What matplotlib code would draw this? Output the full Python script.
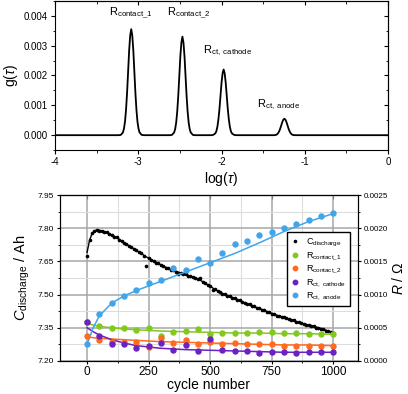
import numpy as np
import matplotlib
matplotlib.use("Agg")
import matplotlib.pyplot as plt
from matplotlib.ticker import MultipleLocator, FormatStrFormatter
from matplotlib.lines import Line2D

plt.rcParams['font.family'] = ['Liberation Sans', 'DejaVu Sans']
plt.rcParams['mathtext.fontset'] = 'custom'
plt.rcParams['mathtext.rm'] = 'Liberation Sans'
plt.rcParams['mathtext.it'] = 'Liberation Sans:italic'
plt.rcParams['mathtext.bf'] = 'Liberation Sans:bold'

# ---------------- top panel: DRT g(tau) ----------------
peak_centers = [-3.085, -2.47, -1.975, -1.245]
peak_offsets_half = [-0.15, -0.125, -0.1, -0.0875, -0.075, -0.0625, -0.05,
                     -0.0375, -0.025, -0.0125, 0.0]
peak1_half = [0, 0.00001, 0.00009, 0.00022, 0.00045, 0.00085, 0.00142, 0.00213, 0.00284, 0.00334, 0.00355]
peak2_half = [0, 0.00001, 0.00009, 0.00020, 0.00042, 0.00079, 0.00132, 0.00198, 0.00264, 0.00310, 0.00330]
peak3_half = [0, 0.00001, 0.00006, 0.00013, 0.00028, 0.00053, 0.00088, 0.00132, 0.00176, 0.00207, 0.00220]
peak4_half = [0, 0.0, 0.00001, 0.00003, 0.00007, 0.00013, 0.00022, 0.00033, 0.00044, 0.00052, 0.00055]
peak_labels = [r"R$_{\mathrm{contact\_1}}$", r"R$_{\mathrm{contact\_2}}$",
               r"R$_{\mathrm{ct,\ cathode}}$", r"R$_{\mathrm{ct,\ anode}}$"]
label_pos = [(-3.35, 0.00408), (-2.65, 0.00408), (-2.22, 0.00283), (-1.58, 0.00101)]

# ---------------- bottom panel ----------------
cycles_c = list(range(0, 1001, 10))
c_discharge = [7.675, 7.748, 7.780, 7.786, 7.794, 7.789, 7.788, 7.784, 7.781, 7.774,
               7.771, 7.760, 7.758, 7.748, 7.744, 7.733, 7.729, 7.720, 7.714, 7.705,
               7.701, 7.692, 7.688, 7.676, 7.628, 7.664, 7.656, 7.653, 7.644, 7.641,
               7.633, 7.629, 7.621, 7.620, 7.612, 7.611, 7.604, 7.592, 7.598, 7.592,
               7.591, 7.586, 7.585, 7.578, 7.577, 7.570, 7.575, 7.556, 7.552, 7.541,
               7.537, 7.520, 7.524, 7.515, 7.512, 7.503, 7.501, 7.493, 7.492, 7.485,
               7.484, 7.476, 7.474, 7.466, 7.464, 7.456, 7.456, 7.447, 7.446, 7.439,
               7.438, 7.431, 7.429, 7.422, 7.420, 7.413, 7.412, 7.405, 7.404, 7.399,
               7.399, 7.392, 7.391, 7.384, 7.383, 7.376, 7.376, 7.370, 7.369, 7.363,
               7.363, 7.357, 7.357, 7.351, 7.351, 7.345, 7.344, 7.337, 7.336, 7.330,
               7.328]
fit_c_x = [0, 10, 20, 30, 40, 50, 75, 100, 125, 150, 175, 200, 225, 250, 275, 300,
           325, 350, 375, 400, 425, 450, 475, 500, 525, 550, 575, 600, 625, 650,
           675, 700, 725, 750, 775, 800, 825, 850, 875, 900, 925, 950, 975, 1000]
fit_c_y = [7.69, 7.745, 7.775, 7.788, 7.792, 7.791, 7.783, 7.770, 7.754, 7.735,
           7.718, 7.700, 7.682, 7.664, 7.649, 7.634, 7.621, 7.610, 7.600, 7.590,
           7.581, 7.571, 7.555, 7.537, 7.520, 7.505, 7.493, 7.483, 7.470, 7.458,
           7.447, 7.437, 7.426, 7.415, 7.405, 7.397, 7.388, 7.378, 7.370, 7.362,
           7.355, 7.347, 7.337, 7.328]

cycles_r = list(range(0, 1001, 50))
r_contact1 = [0.00058, 0.00052, 0.00050, 0.00050, 0.00046, 0.00049, 0.00038, 0.00044,
              0.00045, 0.00048, 0.00040, 0.00042, 0.00042, 0.00042, 0.00043, 0.00043,
              0.00042, 0.00042, 0.00041, 0.00041, 0.00040]
r_contact2 = [0.00038, 0.00032, 0.00028, 0.00029, 0.00028, 0.00021, 0.00035, 0.00027,
              0.00032, 0.00026, 0.00029, 0.00026, 0.00027, 0.00026, 0.00025, 0.00025,
              0.00023, 0.00023, 0.00022, 0.00023, 0.00023]
r_cathode = [0.00058, 0.00038, 0.00026, 0.00026, 0.00020, 0.00023, 0.00027, 0.00016,
             0.00024, 0.00015, 0.00033, 0.00016, 0.00015, 0.00015, 0.00012, 0.00013,
             0.00013, 0.00012, 0.00014, 0.00013, 0.00013]
r_anode = [0.00025, 0.00070, 0.00087, 0.00098, 0.00107, 0.00117, 0.00122, 0.00140,
           0.00137, 0.00154, 0.00147, 0.00163, 0.00176, 0.00180, 0.00190, 0.00195,
           0.00201, 0.00207, 0.00213, 0.00219, 0.00223]

fit_r_x = [0, 25, 50, 100, 150, 200, 250, 300, 400, 500, 600, 700, 800, 900, 1000]
fit_contact1 = [0.00057, 0.00054, 0.00052, 0.00050, 0.00048, 0.00047, 0.00046, 0.00045,
                0.00044, 0.00043, 0.00042, 0.00042, 0.00041, 0.00041, 0.00040]
fit_contact2 = [0.00036, 0.00035, 0.00034, 0.00033, 0.00032, 0.00031, 0.00030, 0.00029,
                0.00028, 0.00027, 0.00026, 0.00025, 0.00024, 0.00024, 0.00023]
fit_cathode = [0.00050, 0.00044, 0.00039, 0.00032, 0.00027, 0.00023, 0.00021, 0.00019,
               0.00017, 0.00016, 0.00015, 0.00014, 0.00013, 0.00013, 0.00013]
fit_anode = [0.00025, 0.00050, 0.00068, 0.00087, 0.00098, 0.00106, 0.00113, 0.00120,
             0.00134, 0.00148, 0.00162, 0.00178, 0.00195, 0.00210, 0.00222]

col_c1 = '#82c91e'
col_c2 = '#ff6a1f'
col_cat = '#6a22c2'
col_an = '#42a5ea'

fig = plt.figure(figsize=(4.08, 3.94), dpi=100)

# ---- top axes ----
ax1 = fig.add_axes([0.135, 0.619, 0.816, 0.379])
xs = [-4.0]
ys = [0.0]
for c, half in zip(peak_centers, [peak1_half, peak2_half, peak3_half, peak4_half]):
    full_off = peak_offsets_half + [-o for o in peak_offsets_half[-2::-1]]
    full_y = half + half[-2::-1]
    xs += [c + o for o in full_off]
    ys += full_y
xs.append(0.0)
ys.append(0.0)
ax1.plot(xs, ys, color='black', lw=1.3)
ax1.set_xlim(-4, 0)
ax1.set_ylim(-0.0005, 0.0045)
ax1.xaxis.set_major_locator(MultipleLocator(1))
ax1.xaxis.set_minor_locator(MultipleLocator(0.5))
ax1.yaxis.set_major_locator(MultipleLocator(0.001))
ax1.yaxis.set_minor_locator(MultipleLocator(0.0005))
ax1.yaxis.set_major_formatter(FormatStrFormatter('%.3f'))
ax1.xaxis.set_major_formatter(FormatStrFormatter('%d'))
ax1.tick_params(which='major', direction='out', length=3, width=0.8, labelsize=7, pad=2)
ax1.tick_params(which='minor', direction='out', length=1.8, width=0.6)
ax1.set_xlabel(r"log($\tau$)", fontsize=10, labelpad=2)
ax1.set_ylabel(r"g($\tau$)", fontsize=10, labelpad=3)
for s in ax1.spines.values():
    s.set_linewidth(0.8)
for lab, (lx, ly) in zip(peak_labels, label_pos):
    ax1.text(lx, ly, lab, fontsize=8, va='center', ha='left')
sx = ax1.secondary_xaxis('top')
sx.xaxis.set_major_locator(MultipleLocator(1))
sx.xaxis.set_minor_locator(MultipleLocator(0.5))
sx.tick_params(which='major', direction='in', length=3, labeltop=False)
sx.tick_params(which='minor', direction='in', length=1.8)
sy = ax1.secondary_yaxis('right')
sy.yaxis.set_major_locator(MultipleLocator(0.001))
sy.yaxis.set_minor_locator(MultipleLocator(0.0005))
sy.tick_params(which='major', direction='in', length=3, labelright=False)
sy.tick_params(which='minor', direction='in', length=1.8)

# ---- bottom axes ----
ax = fig.add_axes([0.147, 0.084, 0.730, 0.421])
ax.set_xlim(-110, 1100)
ax.set_ylim(7.20, 7.95)
ax.xaxis.set_major_locator(MultipleLocator(250))
ax.xaxis.set_minor_locator(MultipleLocator(125))
ax.yaxis.set_major_locator(MultipleLocator(0.15))
ax.yaxis.set_minor_locator(MultipleLocator(0.075))
ax.yaxis.set_major_formatter(FormatStrFormatter('%.2f'))
ax.grid(which='major', color='#a3a8a8', lw=1.1)
ax.grid(which='minor', color='#dcdede', lw=0.8)
ax.set_axisbelow(True)
ax.tick_params(axis='x', which='major', direction='out', length=2.5, labelsize=8.5, pad=1.5)
ax.tick_params(axis='y', which='major', direction='out', length=2.5, labelsize=6, pad=2)
ax.tick_params(which='minor', direction='out', length=1.5)
ax.set_xlabel("cycle number", fontsize=10, labelpad=0)
ax.set_ylabel(r"$C_{\mathrm{discharge}}$ / Ah", fontsize=10.5, labelpad=4)
for s in ax.spines.values():
    s.set_linewidth(0.8)
sx2 = ax.secondary_xaxis('top')
sx2.xaxis.set_major_locator(MultipleLocator(250))
sx2.xaxis.set_minor_locator(MultipleLocator(125))
sx2.tick_params(which='major', direction='in', length=3, labeltop=False)
sx2.tick_params(which='minor', direction='in', length=3)

ax.plot(fit_c_x, fit_c_y, color='black', lw=1.0, zorder=3)
ax.plot(cycles_c, c_discharge, ls='none', marker='o', ms=1.6, color='black', zorder=4)

ax2 = ax.twinx()
ax2.set_ylim(0, 0.0025)
ax2.yaxis.set_major_locator(MultipleLocator(0.0005))
ax2.yaxis.set_minor_locator(MultipleLocator(0.00025))
ax2.yaxis.set_major_formatter(FormatStrFormatter('%.4f'))
ax2.tick_params(axis='y', which='major', direction='out', length=2.5, labelsize=5.8, pad=1.5)
ax2.tick_params(axis='y', which='minor', direction='out', length=1.5)
ax2.set_ylabel(r"$R$ / $\Omega$", fontsize=10, labelpad=2)
for s in ax2.spines.values():
    s.set_linewidth(0.8)

for fy, ry, col in [(fit_contact1, r_contact1, col_c1), (fit_contact2, r_contact2, col_c2),
                    (fit_cathode, r_cathode, col_cat), (fit_anode, r_anode, col_an)]:
    ax2.plot(fit_r_x, fy, color=col, lw=1.1, zorder=3)
    ax2.plot(cycles_r, ry, ls='none', marker='o', ms=3.6, color=col, zorder=4)

handles = [Line2D([], [], ls='none', marker='o', ms=1.6, color='black'),
           Line2D([], [], ls='none', marker='o', ms=3.2, color=col_c1),
           Line2D([], [], ls='none', marker='o', ms=3.2, color=col_c2),
           Line2D([], [], ls='none', marker='o', ms=3.2, color=col_cat),
           Line2D([], [], ls='none', marker='o', ms=3.2, color=col_an)]
labels = [r"C$_{\mathrm{discharge}}$", r"R$_{\mathrm{contact\_1}}$", r"R$_{\mathrm{contact\_2}}$",
          r"R$_{\mathrm{ct,\ cathode}}$", r"R$_{\mathrm{ct,\ anode}}$"]
leg = ax2.legend(handles, labels, loc='upper right', bbox_to_anchor=(0.975, 0.775),
                 fontsize=6.5, frameon=True, fancybox=False, handlelength=1.0,
                 handletextpad=0.7, borderpad=0.45, labelspacing=0.22, borderaxespad=0)
leg.get_frame().set_edgecolor('black')
leg.get_frame().set_linewidth(1.0)
leg.get_frame().set_alpha(1)

fig.savefig("out.png", dpi=100)
